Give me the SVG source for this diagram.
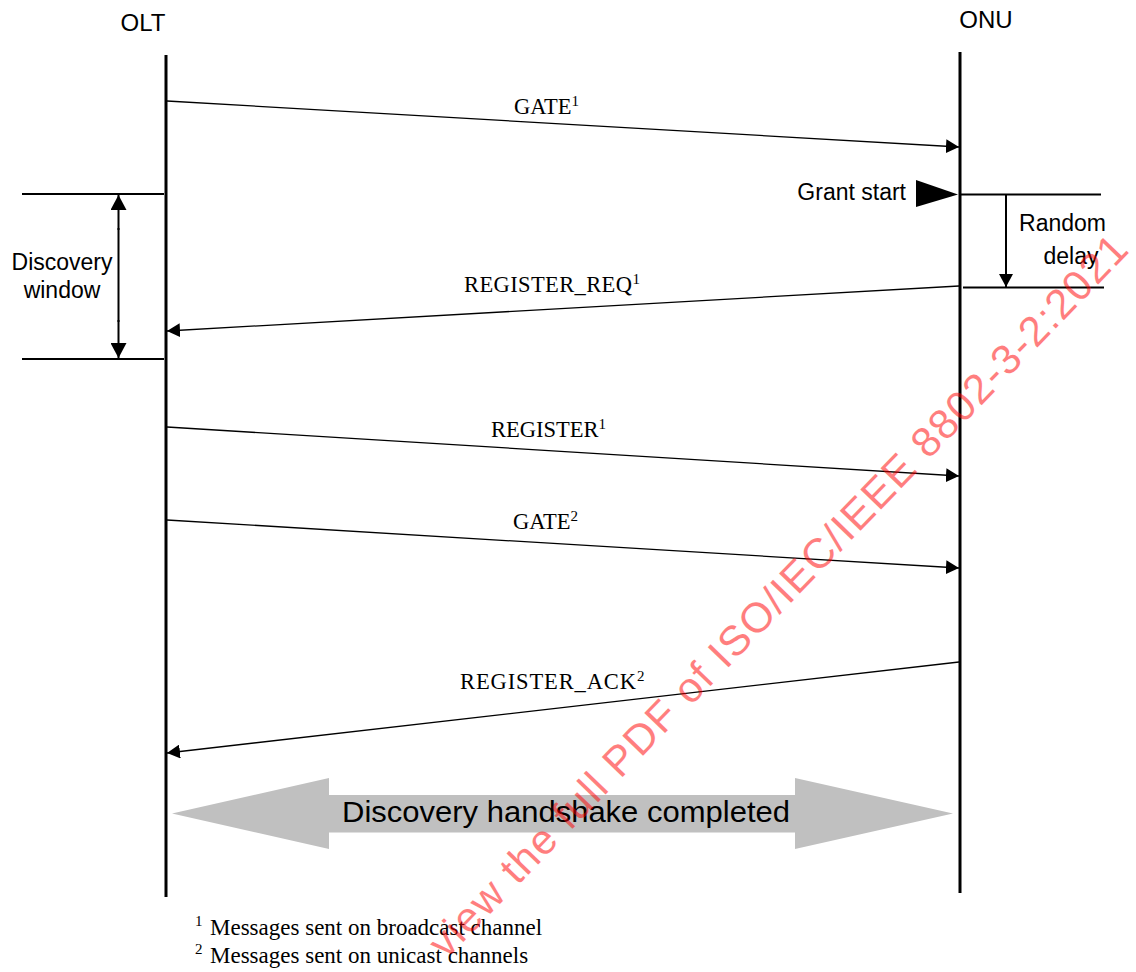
<svg xmlns="http://www.w3.org/2000/svg" width="1136" height="972" viewBox="0 0 1136 972">
<style>
.sans{font-family:"Liberation Sans",Arial,sans-serif;fill:#000}
.serif{font-family:"Liberation Serif","Times New Roman",serif;fill:#000}
.life{stroke:#000;stroke-width:3;fill:none}
.rule{stroke:#000;stroke-width:2;fill:none}
.msg{stroke:#000;stroke-width:1.3;fill:none;marker-end:url(#ah)}
.sup{font-size:15px}
</style>
<defs>
<marker id="ah" markerUnits="userSpaceOnUse" markerWidth="14" markerHeight="14" refX="13" refY="7" orient="auto">
<path d="M0,0 L13,7 L0,14 Z" fill="#000"/>
</marker>
<marker id="ah2" markerUnits="userSpaceOnUse" markerWidth="16" markerHeight="16" refX="15" refY="8" orient="auto">
<path d="M0,0 L15,8 L0,16 Z" fill="#000"/>
</marker>
</defs>
<rect width="1136" height="972" fill="#fff"/>

<g id="olt">
<text class="sans" x="143" y="31" font-size="24" text-anchor="middle">OLT</text>
<line class="life" x1="166" y1="55" x2="166" y2="897"/>
</g>

<g id="onu">
<text class="sans" x="986" y="28" font-size="24" text-anchor="middle">ONU</text>
<line class="life" x1="960" y1="52" x2="960" y2="893"/>
</g>

<g id="discovery-window">
<line class="rule" x1="22" y1="194" x2="164" y2="194"/>
<line class="rule" x1="22" y1="359" x2="164" y2="359"/>
<line class="rule" x1="118.5" y1="230" x2="118.5" y2="195" marker-end="url(#ah2)"/>
<line class="rule" x1="118.5" y1="320" x2="118.5" y2="358" marker-end="url(#ah2)"/>
<line class="rule" x1="118.5" y1="228" x2="118.5" y2="322"/>
<text class="sans" x="62" y="270" font-size="23" text-anchor="middle">Discovery</text>
<text class="sans" x="62" y="298" font-size="23" text-anchor="middle">window</text>
</g>

<g id="grant-start">
<text class="sans" x="906" y="200" font-size="23" text-anchor="end">Grant start</text>
<polygon points="916,180 958,194.5 916,207" fill="#000"/>
</g>

<g id="random-delay">
<line class="rule" x1="960" y1="194.5" x2="1101" y2="194.5"/>
<line class="rule" x1="963" y1="287.5" x2="1104" y2="287.5"/>
<line class="rule" x1="1006" y1="195" x2="1006" y2="287" marker-end="url(#ah)"/>
<text class="sans" x="1062.5" y="231" font-size="23" text-anchor="middle">Random</text>
<text class="sans" x="1071" y="264" font-size="23" text-anchor="middle">delay</text>
</g>

<g id="connectors">
<line class="msg" x1="167" y1="101" x2="959" y2="147"/>
<line class="msg" x1="959" y1="286" x2="167" y2="331"/>
<line class="msg" x1="167" y1="427" x2="959" y2="476"/>
<line class="msg" x1="167" y1="520" x2="959" y2="568"/>
<line class="msg" x1="959" y1="662" x2="167" y2="753"/>
</g>

<g id="labels">
<text class="serif" x="514" y="114" font-size="22.5">GATE<tspan class="sup" dy="-8">1</tspan></text>
<text class="serif" x="464" y="292" font-size="22.5"><tspan textLength="168">REGISTER_REQ</tspan><tspan class="sup" dy="-8">1</tspan></text>
<text class="serif" x="491" y="437" font-size="22.5">REGISTER<tspan class="sup" dy="-8">1</tspan></text>
<text class="serif" x="513" y="529" font-size="22.5">GATE<tspan class="sup" dy="-8">2</tspan></text>
<text class="serif" x="460" y="689" font-size="22.5"><tspan textLength="176">REGISTER_ACK</tspan><tspan class="sup" dy="-8">2</tspan></text>
</g>

<g id="handshake">
<polygon points="172,813.5 329,778 329,795 795,795 795,778 953,813.5 795,849 795,832.5 329,832.5 329,849" fill="#c0c0c0"/>
<text class="sans" x="342" y="822" font-size="30" textLength="448" lengthAdjust="spacingAndGlyphs">Discovery handshake completed</text>
</g>

<g id="footnotes">
<text class="serif" x="195" y="926" font-size="15">1</text>
<text class="serif" x="210" y="935" font-size="23">Messages sent on broadcast channel</text>
<text class="serif" x="195" y="954" font-size="15">2</text>
<text class="serif" x="210" y="963" font-size="23">Messages sent on unicast channels</text>
</g>

<g id="watermark" opacity="0.5">
<text transform="rotate(-46 446 960)" x="446" y="960" font-family="'Liberation Sans',Arial,sans-serif" font-size="42" fill="#ff0000" textLength="985" lengthAdjust="spacing">view the full PDF of ISO/IEC/IEEE 8802-3-2:2021</text>
</g>
</svg>
